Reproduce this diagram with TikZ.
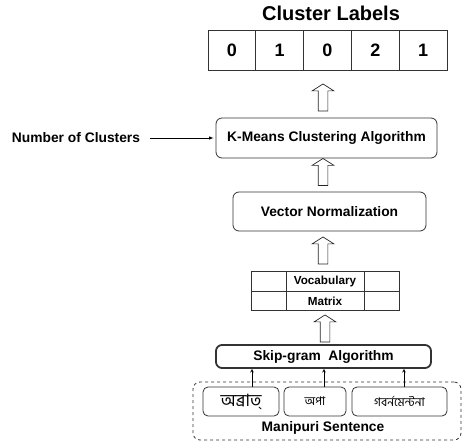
\documentclass[tikz,border=0pt]{standalone}
\usepackage{fontspec}
\setmainfont{Liberation Sans}
\newfontfamily\bnfont[Script=Bengali]{Hind Siliguri}
\usetikzlibrary{shapes.arrows}

\begin{document}
\begin{tikzpicture}[x=1pt,y=-1pt,line width=0.8pt,
        every node/.style={font=\fontsize{13.8}{16}\selectfont\bfseries},
        cell/.style={draw=black!80, minimum width=47.8pt, minimum height=40pt,
        inner sep=0pt, font=\fontsize{18}{20}\selectfont\bfseries},
        mcell/.style={draw=black!80, minimum height=19.5pt, inner sep=0pt,
        font=\fontsize{11.7}{13}\selectfont\bfseries},
        stage/.style={draw=black!80, rounded corners=6pt, inner sep=0pt},
        word/.style={draw=black!80, rounded corners=5pt, minimum height=29pt,
        inner sep=0pt},
        bigarrow/.style={single arrow, draw=black!85, rotate=90, inner sep=0pt,
        inner ysep=4.5pt, minimum height=27pt, minimum width=21pt,
        single arrow head extend=6pt, single arrow tip angle=115, line width=0.7pt}
        ]
    \useasboundingbox (0,0) rectangle (463,447);

    % output labels
    \node[font=\fontsize{20}{22}\selectfont\bfseries] (title) at (331,13) {Cluster Labels};
    \node[cell] (c_1) at (231.9,50) {0};
    \node[cell] (c_2) at (279.7,50) {1};
    \node[cell] (c_3) at (327.5,50) {0};
    \node[cell] (c_4) at (375.3,50) {2};
    \node[cell] (c_5) at (423.1,50) {1};

    % clustering
    \node[stage, minimum width=221pt, minimum height=40pt] (kmeans) at (326.5,138)
        {K-Means Clustering Algorithm};
    \node (nclus) at (76,138) {Number of Clusters};
    \node[stage, minimum width=193pt, minimum height=39pt] (vnorm) at (329.5,211.5)
        {Vector Normalization};

    % vocabulary matrix
    \node[mcell, minimum width=35pt] (m_00) at (268.5,281.5) {};
    \node[mcell, minimum width=78pt] (m_01) at (325,281.5) {Vocabulary};
    \node[mcell, minimum width=35pt] (m_02) at (381.5,281.5) {};
    \node[mcell, minimum width=35pt] (m_10) at (268.5,301) {};
    \node[mcell, minimum width=78pt] (m_11) at (325,301) {Matrix};
    \node[mcell, minimum width=35pt] (m_12) at (381.5,301) {};

    % skip-gram and input sentence
    \node[stage, line width=1.8pt, minimum width=215pt, minimum height=23pt] (skip)
        at (323.5,356.5) {Skip-gram\ \ Algorithm};
    \node[draw=black!80, dashed, rounded corners=7pt, minimum width=268pt,
        minimum height=58pt, inner sep=0pt] (sent) at (327,411) {};
    \node[word, minimum width=76pt, font=\fontsize{17}{18}\selectfont\bnfont] (w_1)
        at (241,401.5) {অব্রাত্};
    \node[word, minimum width=62pt, font=\fontsize{12}{14}\selectfont\bnfont] (w_2)
        at (315,401.5) {অপা};
    \node[word, minimum width=95pt, font=\fontsize{12}{14}\selectfont\bnfont] (w_3)
        at (399.5,401.5) {গবর্নমেন্টনা};
    \node (slabel) at (323,428) {Manipuri Sentence};

    % block arrows between the stages
    \node[bigarrow] (up_1) at (323,99) {};
    \node[bigarrow] (up_2) at (323,173.5) {};
    \node[bigarrow] (up_3) at (323,252) {};
    \node[bigarrow] (up_4) at (325,330) {};

    \draw [-latex, line width=0.6pt, shorten <=6pt, shorten >=2pt] (nclus) -- (kmeans);
    \draw [-stealth, line width=0.6pt] ([xshift=11pt]w_1.north) -- ([xshift=11pt]w_1.north |- skip.south);
    \draw [-stealth, line width=0.6pt] ([xshift=9pt]w_2.north) -- ([xshift=9pt]w_2.north |- skip.south);
    \draw [-stealth, line width=0.6pt] ([xshift=4.5pt]w_3.north) -- ([xshift=4.5pt]w_3.north |- skip.south);
\end{tikzpicture}
\end{document}
